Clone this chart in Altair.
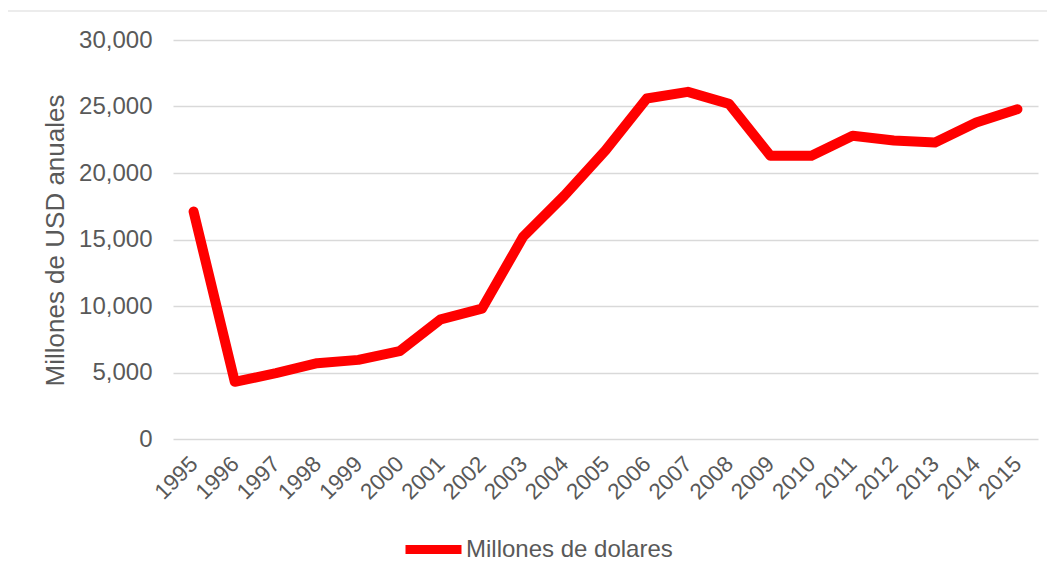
import altair as alt
import pandas as pd

years = [str(y) for y in range(1995, 2016)]
values = [17100, 4300, 4950, 5700, 5950, 6600, 9000, 9800, 15200, 18300,
          21700, 25600, 26100, 25200, 21300, 21300, 22800, 22450, 22300, 23800, 24800]
series = ["Millones de dolares"] * len(years)
y_ticks = [0, 5000, 10000, 15000, 20000, 25000, 30000]

df = pd.DataFrame({"year": years, "value": values, "serie": series})

FONT = "Liberation Sans"
GREY = "#595959"

border = alt.Chart(pd.DataFrame({"k": [0]})).mark_rect(
    fill="transparent", stroke="#d9d9d9", strokeWidth=1
).encode(
    x=alt.value(-166), x2=alt.value(1200), y=alt.value(-29), y2=alt.value(900)
)

line = alt.Chart(df).mark_line(
    strokeWidth=10, strokeJoin="round", strokeCap="round"
).encode(
    x=alt.X("year:O", sort=years,
            scale=alt.Scale(type="point", padding=0.5),
            axis=alt.Axis(title=None, labelAngle=-45, labelAlign="right",
                          labelBaseline="middle", labelPadding=21,
                          labelFontSize=22.5, labelColor=GREY, labelFont=FONT,
                          ticks=False, domain=False, grid=False)),
    y=alt.Y("value:Q",
            scale=alt.Scale(domain=[0, 30000], nice=False, zero=True),
            axis=alt.Axis(title="Millones de USD anuales", values=y_ticks,
                          format=",.0f", labelFontSize=24, labelColor=GREY,
                          labelFont=FONT, labelPadding=21, tickSize=0,
                          ticks=False, domain=False, grid=True,
                          gridColor="#d9d9d9", gridWidth=1.5,
                          titleFontSize=26, titleFont=FONT, titleColor=GREY,
                          titleFontWeight="normal", titleX=-118, titleY=200,
                          titleAngle=-90, titleBaseline="middle",
                          titleAlign="center")),
    color=alt.Color("serie:N",
                    scale=alt.Scale(domain=["Millones de dolares"], range=["#ff0000"]),
                    legend=alt.Legend(title=None, orient="none", legendX=228,
                                      legendY=477, symbolType="stroke",
                                      symbolSize=3136, symbolStrokeWidth=9,
                                      labelFontSize=24, labelFont=FONT,
                                      labelColor=GREY, labelOffset=0,
                                      labelLimit=400, padding=0)),
)

chart = alt.layer(border, line).properties(
    width=865, height=399,
    autosize=alt.AutoSizeParams(type="none"),
    padding={"left": 165, "top": 32, "right": 9, "bottom": 132},
).configure_view(stroke=None)

chart.save("out.html", embed_options={"renderer": "svg", "actions": False})
